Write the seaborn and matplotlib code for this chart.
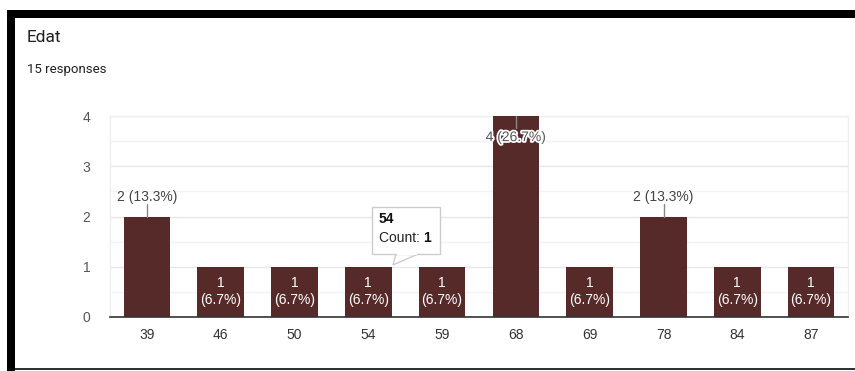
import matplotlib
matplotlib.use("Agg")
import matplotlib.pyplot as plt
import matplotlib.patheffects as pe
from matplotlib.patches import Rectangle, Polygon, FancyBboxPatch
from matplotlib.ticker import MultipleLocator
import seaborn as sns
import pandas as pd

# Survey answers: age (Edat) and number of responses per age
ages = ["39", "46", "50", "54", "59", "68", "69", "78", "84", "87"]
counts = [2, 1, 1, 1, 1, 4, 1, 2, 1, 1]
total_responses = 15
title = "Edat"
subtitle = f"{total_responses} responses"

BAR = "#572a2a"

sns.set_theme(style="white")
plt.rcParams["font.family"] = ["Liberation Sans", "DejaVu Sans"]

W, H = 855, 371
fig = plt.figure(figsize=(W / 100, H / 100), dpi=100)
fig.patch.set_facecolor("white")


def fx(x):
    return x / W


def fy(y):
    return 1 - y / H


ax = fig.add_axes([fx(110), fy(317), fx(848) - fx(110), fy(116) - fy(317)])

df = pd.DataFrame({"age": ages, "count": counts})
sns.barplot(data=df, x="age", y="count", color=BAR, width=0.63,
            saturation=1, linewidth=0, ax=ax, zorder=3)

ax.set_xlim(-0.5, len(ages) - 0.5)
ax.set_ylim(0, 4)
ax.yaxis.set_major_locator(MultipleLocator(1))
ax.yaxis.set_minor_locator(MultipleLocator(0.5))
ax.grid(axis="y", which="major", color="#e6e6e6", linewidth=1, zorder=0)
ax.grid(axis="y", which="minor", color="#f3f3f3", linewidth=1, zorder=0)
ax.set_xlabel("")
ax.set_ylabel("")
ax.tick_params(axis="both", length=0, labelsize=10)
ax.tick_params(axis="x", pad=8, labelcolor="#333333")
ax.tick_params(axis="y", pad=14, labelcolor="#555555")

for side in ["left", "right", "top"]:
    ax.spines[side].set_color("#eeeeee")
    ax.spines[side].set_linewidth(1)
ax.spines["bottom"].set_color("#333333")
ax.spines["bottom"].set_linewidth(1.2)
ax.spines["bottom"].set_zorder(5)

# Value labels: inside short bars, above taller ones with a leader line
for i, c in enumerate(counts):
    pct = 100 * c / total_responses
    if c == 1:
        ax.text(i, c - 0.33, f"{c}", ha="center", va="center",
                color="white", fontsize=10, zorder=6)
        ax.text(i, c - 0.67, f"({pct:.1f}%)", ha="center", va="center",
                color="white", fontsize=10, zorder=6)
    elif c >= ax.get_ylim()[1]:
        ax.plot([i, i], [c, c - 0.24], color="#888888", lw=1, zorder=6)
        ax.text(i, c - 0.42, f"{c} ({pct:.1f}%)", ha="center", va="center",
                color="#555555", fontsize=10, zorder=7,
                path_effects=[pe.withStroke(linewidth=2.5, foreground="white")])
    else:
        ax.plot([i, i], [c, c + 0.24], color="#888888", lw=1, zorder=6)
        ax.text(i, c + 0.38, f"{c} ({pct:.1f}%)", ha="center", va="center",
                color="#444444", fontsize=10, zorder=6)

# Hover tooltip over the "54" bar
hover = ages.index("54")
box_l, box_r, box_t, box_b = 372, 440, 207, 254
shadow = FancyBboxPatch((fx(box_l + 1), fy(box_b + 1)), fx(box_r - box_l), fy(box_t) - fy(box_b),
                        boxstyle="square,pad=0", transform=fig.transFigure,
                        facecolor="#d9d9d9", edgecolor="none", zorder=8)
fig.patches.append(shadow)
tip = Polygon([(fx(396), fy(box_b)), (fx(393), fy(265)), (fx(418), fy(box_b))],
              closed=True, transform=fig.transFigure, facecolor="white",
              edgecolor="#cccccc", linewidth=1, zorder=9)
fig.patches.append(tip)
box = Rectangle((fx(box_l), fy(box_b)), fx(box_r - box_l), fy(box_t) - fy(box_b),
                transform=fig.transFigure, facecolor="white",
                edgecolor="#cccccc", linewidth=1, zorder=10)
fig.patches.append(box)
cover = Rectangle((fx(397), fy(box_b + 0.5)), fx(20), fy(box_b - 1) - fy(box_b + 0.5),
                  transform=fig.transFigure, facecolor="white", edgecolor="none",
                  zorder=11)
fig.patches.append(cover)
fig.text(fx(379), fy(219), ages[hover], fontsize=10, fontweight="bold",
         color="#111111", va="center", ha="left", zorder=12)
fig.text(fx(379), fy(238), "Count: ", fontsize=10, color="#222222",
         va="center", ha="left", zorder=12)
fig.text(fx(423), fy(238), f"{counts[hover]}", fontsize=10, fontweight="bold",
         color="#111111", va="center", ha="left", zorder=12)

# Card header
fig.text(fx(27), fy(37), title, fontsize=12.5, color="#202124",
         family=["Roboto", "DejaVu Sans"], va="center", ha="left")
fig.text(fx(27), fy(69), subtitle, fontsize=9.5, color="#202124",
         family=["Roboto", "DejaVu Sans"], va="center", ha="left")

# Dark frame around the card
fig.patches.append(Rectangle((fx(7), fy(18)), fx(W - 7), fy(10) - fy(18),
                             transform=fig.transFigure, facecolor="black",
                             edgecolor="none", zorder=20))
fig.patches.append(Rectangle((fx(7), fy(H)), fx(8), fy(10) - fy(H),
                             transform=fig.transFigure, facecolor="black",
                             edgecolor="none", zorder=20))
fig.patches.append(Rectangle((fx(15), fy(370)), fx(W - 15), fy(368) - fy(370),
                             transform=fig.transFigure, facecolor="#333333",
                             edgecolor="none", zorder=20))

fig.savefig("out.png", dpi=100)
